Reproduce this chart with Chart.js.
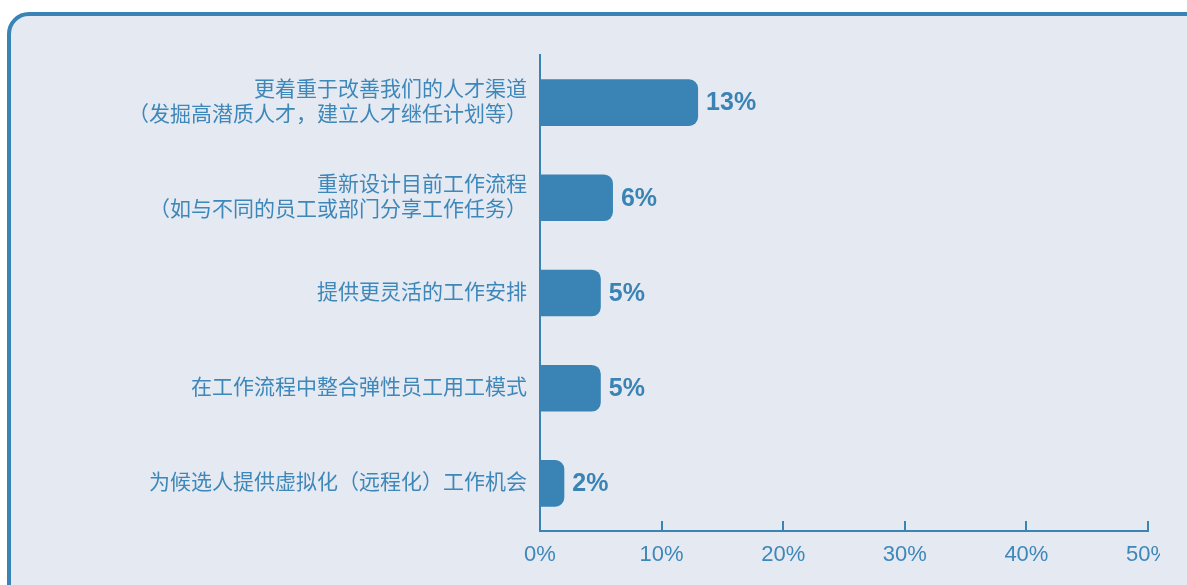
<!DOCTYPE html>
<html>
<head>
<meta charset="utf-8">
<script src="https://cdn.jsdelivr.net/npm/chart.js@4"></script>
<style>
  html, body { margin: 0; padding: 0; background: #ffffff; overflow: hidden; }
  body { width: 1187px; height: 585px; position: relative; }
  .panel {
    position: absolute; left: 7px; top: 12px; width: 1220px; height: 620px;
    box-sizing: border-box; border: 4px solid #3a84b5; border-radius: 22px;
    background: #e5e9f2;
  }
  .clip { position: absolute; left: 0; top: 0; width: 1160px; height: 585px; overflow: hidden; }
  .clip canvas { position: absolute; left: 0; top: 0; }
</style>
</head>
<body>
<div class="panel"></div>
<div class="clip"><canvas id="chart" width="1187" height="585"></canvas></div>
<script>
const categories = [
  ['更着重于改善我们的人才渠道', '（发掘高潜质人才，建立人才继任计划等）'],
  ['重新设计目前工作流程', '（如与不同的员工或部门分享工作任务）'],
  '提供更灵活的工作安排',
  '在工作流程中整合弹性员工用工模式',
  '为候选人提供虚拟化（远程化）工作机会'
];
const shares = [13, 6, 5, 5, 2];
const xTicks = [0, 10, 20, 30, 40, 50];

const blue = '#3a84b5';
const textBlue = '#3d87b9';
const fontFamily = '"Liberation Sans", Arial, "Noto Sans CJK SC", sans-serif';

// small upward tick marks sitting on the x axis
const innerTicks = {
  id: 'innerTicks',
  afterDraw(chart) {
    const x = chart.scales.x;
    const c = chart.ctx;
    c.save();
    c.strokeStyle = blue;
    c.lineWidth = 2;
    xTicks.slice(1).forEach(v => {
      const px = Math.round(x.getPixelForValue(v));
      c.beginPath();
      c.moveTo(px, x.top);
      c.lineTo(px, x.top - 10);
      c.stroke();
    });
    c.restore();
  }
};

// percentage text at the end of each bar
const barValues = {
  id: 'barValues',
  afterDatasetsDraw(chart) {
    const c = chart.ctx;
    const meta = chart.getDatasetMeta(0);
    c.save();
    c.fillStyle = blue;
    c.font = 'bold 25px ' + fontFamily;
    c.textAlign = 'left';
    c.textBaseline = 'middle';
    meta.data.forEach((bar, i) => {
      c.fillText(shares[i] + '%', bar.x + 8, bar.y + 1);
    });
    c.restore();
  }
};

new Chart(document.getElementById('chart').getContext('2d'), {
  type: 'bar',
  data: {
    labels: categories,
    datasets: [{
      data: shares,
      backgroundColor: blue,
      borderRadius: 9,
      borderSkipped: 'start',
      categoryPercentage: 1,
      barPercentage: 0.49
    }]
  },
  options: {
    indexAxis: 'y',
    responsive: false,
    animation: false,
    layout: { padding: { top: 55, right: 39, bottom: 0, left: 0 } },
    plugins: { legend: { display: false }, tooltip: { enabled: false } },
    scales: {
      x: {
        min: 0,
        max: 50,
        afterBuildTicks: scale => { scale.ticks = xTicks.map(v => ({ value: v })); },
        afterFit: scale => { scale.height = 54; },
        grid: { display: false, drawTicks: false },
        border: { display: true, color: blue, width: 2 },
        ticks: {
          color: textBlue,
          padding: 11,
          font: { family: fontFamily, size: 22 },
          callback: v => v + '%'
        }
      },
      y: {
        afterFit: scale => { scale.width = 540; },
        grid: { display: false, drawTicks: false },
        border: { display: true, color: blue, width: 2 },
        ticks: {
          color: textBlue,
          padding: 13,
          font: { family: fontFamily, size: 21, lineHeight: '25px' }
        }
      }
    }
  },
  plugins: [innerTicks, barValues]
});
</script>
</body>
</html>
